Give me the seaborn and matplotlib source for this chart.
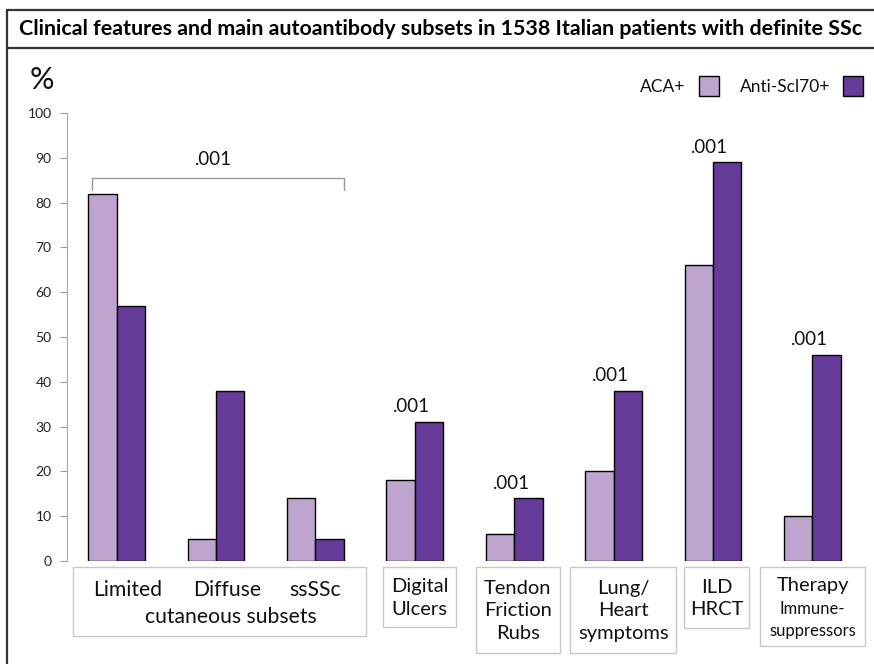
import numpy as np
import pandas as pd
import matplotlib
matplotlib.use("Agg")
import matplotlib.pyplot as plt
from matplotlib.patches import Rectangle
from matplotlib.lines import Line2D
from matplotlib.transforms import blended_transform_factory
import seaborn as sns

# ---------------- data ----------------
categories = ["Limited", "Diffuse", "ssSSc", "Digital\nUlcers", "Tendon\nFriction\nRubs",
              "Lung/\nHeart\nsymptoms", "ILD\nHRCT", "Therapy"]
therapy_sub = "Immune-\nsuppressors"
group_label = "cutaneous subsets"
series_names = ["ACA+", "Anti-Scl70+"]
aca = [82, 5, 14, 18, 6, 20, 66, 10]
scl70 = [57, 38, 5, 31, 14, 38, 89, 46]
pvalue_cut = ".001"
pvalue_items = [3, 4, 5, 6, 7]
pvalue_labels = [".001", ".001", ".001", ".001", ".001"]
yticks = [0, 10, 20, 30, 40, 50, 60, 70, 80, 90, 100]
title = "Clinical features and main autoantibody subsets in 1538 Italian patients with definite SSc"

df = pd.DataFrame({
    "feature": categories * 2,
    "pct": aca + scl70,
    "group": [series_names[0]] * len(categories) + [series_names[1]] * len(categories),
})

# ---------------- style ----------------
sns.set_style("white")
plt.rcParams["font.family"] = ["Lato", "DejaVu Sans"]
c_aca = "#BDA5CF"
c_scl = "#663A98"
txt = "#111111"

W, H = 874, 664
fig = plt.figure(figsize=(W / 100, H / 100), dpi=100)
fx = lambda x: x / W
fy = lambda y: 1 - y / H

ax = fig.add_axes([fx(67), fy(561), fx(862) - fx(67), fy(113) - fy(561)])
sns.barplot(data=df, x="feature", y="pct", hue="group", order=categories,
            hue_order=series_names, palette=[c_aca, c_scl], width=0.57,
            edgecolor="black", linewidth=1.0, ax=ax, saturation=1)
ax.set_xlim(-0.5, 7.5)
ax.set_ylim(0, 100)
ax.set_yticks(yticks)
ax.set_yticklabels([str(v) for v in yticks], fontsize=10, color="#222222")
ax.tick_params(axis="y", direction="out", length=5, width=0.8, color="#999999", pad=6, left=True)
ax.tick_params(axis="x", bottom=False, labelbottom=False)
ax.set_xlabel("")
ax.set_ylabel("")
for s in ["top", "right", "bottom"]:
    ax.spines[s].set_visible(False)
ax.spines["left"].set_color("#aaaaaa")
ax.spines["left"].set_linewidth(0.8)

# legend
handles, labels = ax.get_legend_handles_labels()
if ax.get_legend() is not None:
    ax.get_legend().remove()
leg = fig.legend(handles, labels, loc="center right", bbox_to_anchor=(fx(863), fy(86)),
                 ncol=2, frameon=False, markerfirst=False, fontsize=12.5,
                 handlelength=1.15, handleheight=1.45, handletextpad=0.75,
                 columnspacing=1.2, borderpad=0, borderaxespad=0)
for t in leg.get_texts():
    t.set_color(txt)

# "%" label
fig.text(fx(42), fy(80), "%", fontsize=22, ha="center", va="center", color=txt)

# p-values above bars
for i, lab in zip(pvalue_items, pvalue_labels):
    top = max(aca[i], scl70[i])
    ax.text(i - 0.03, top + 3.4, lab, ha="center", va="center", fontsize=13.5, color=txt)

# bracket over cutaneous subsets
br_y, br_drop = 85.5, 2.7
ax.plot([-0.25, -0.25, 2.285, 2.285], [br_y - br_drop, br_y, br_y, br_y - br_drop],
        color="#999999", lw=1.0, clip_on=False)
ax.text(0.97, br_y + 4.2, pvalue_cut, ha="center", va="center", fontsize=13.5, color=txt)

# label boxes below bars (x in data, y in figure)
tr = blended_transform_factory(ax.transData, fig.transFigure)
boxes = [(-0.443, 2.508, 567, 636), (2.679, 3.414, 567, 627), (3.615, 4.461, 567, 653),
         (4.562, 5.630, 567, 653), (5.710, 6.365, 567, 628), (6.475, 7.533, 567, 646)]
for x0, x1, y0, y1 in boxes:
    ax.add_patch(Rectangle((x0, fy(y1)), x1 - x0, fy(y0) - fy(y1), transform=tr,
                           fill=False, edgecolor="#c8c8c8", lw=1.0, clip_on=False))

offs = [0.11, 0.11, 0.0]
for i in range(3):
    ax.text(i + offs[i], fy(590), categories[i], transform=tr, ha="center", va="center",
            fontsize=15.2, color=txt)
ax.text(1.15, fy(617), group_label, transform=tr, ha="center", va="center",
        fontsize=15.2, color=txt)
for i, (x0, x1, y0, y1) in zip(range(3, 7), boxes[1:5]):
    ax.text((x0 + x1) / 2, fy((y0 + y1) / 2 + 1), categories[i], transform=tr,
            ha="center", va="center", fontsize=14.5, color=txt, linespacing=1.42)
x0, x1 = boxes[5][0], boxes[5][1]
ax.text((x0 + x1) / 2, fy(586), categories[7], transform=tr, ha="center", va="center",
        fontsize=14.5, color=txt)
ax.text((x0 + x1) / 2, fy(620), therapy_sub, transform=tr, ha="center", va="center",
        fontsize=12, color=txt, linespacing=1.45)

# frame and title box
lc = "#333333"
fig.add_artist(Line2D([fx(7), fx(7)], [fy(10), fy(664)], color=lc, lw=1.6))
fig.add_artist(Line2D([fx(7), 1], [fy(10), fy(10)], color=lc, lw=1.6))
fig.add_artist(Line2D([fx(7), 1], [fy(48), fy(48)], color=lc, lw=1.6))
tt = fig.text(fx(441), fy(29), title, ha="center", va="center", fontsize=13,
              fontweight="bold", color="black")
fig.canvas.draw()
w = tt.get_window_extent().width
tt.set_fontsize(13 * 842 / w)

fig.savefig("out.png", dpi=100)
